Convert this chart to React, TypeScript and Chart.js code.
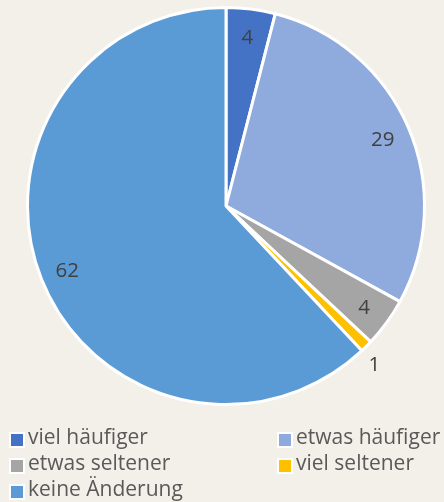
import React, { useEffect, useRef } from "react";
import { Chart, registerables } from "chart.js";

Chart.register(...registerables);

const categories = ["viel häufiger", "etwas häufiger", "etwas seltener", "viel seltener", "keine Änderung"];
const values = [4, 29, 4, 1, 62];
const colors = ["#4472C4", "#8FAADC", "#A5A5A5", "#FFC000", "#5B9BD5"];

const BG = "#F3F0EA";
const FONT = "'Open Sans', sans-serif";

const bgPlugin = {
  id: "bg",
  beforeDraw(chart: any) {
    const { ctx, width, height } = chart;
    ctx.save();
    ctx.fillStyle = BG;
    ctx.fillRect(0, 0, width, height);
    ctx.restore();
  },
};

const labelPlugin = {
  id: "sliceLabels",
  afterDatasetsDraw(chart: any) {
    const { ctx } = chart;
    const meta = chart.getDatasetMeta(0);
    const data = chart.data.datasets[0].data as number[];
    ctx.save();
    ctx.font = `20.5px ${FONT}`;
    ctx.fillStyle = "#404040";
    ctx.textAlign = "center";
    ctx.textBaseline = "middle";
    meta.data.forEach((arc: any, i: number) => {
      const { x, y, startAngle, endAngle, outerRadius } = arc.getProps(
        ["x", "y", "startAngle", "endAngle", "outerRadius"],
        true
      );
      const outside = data[i] < 2;
      const mid = (startAngle + endAngle) / 2 + (outside ? 0.03 : 0);
      const f = outside ? 1.09 : 0.86;
      const r = outerRadius * f;
      ctx.fillText(String(data[i]), x + Math.cos(mid) * r, y + Math.sin(mid) * r + 2);
    });
    ctx.restore();
  },
};

const legendPlugin = {
  id: "gridLegend",
  afterDraw(chart: any) {
    const { ctx } = chart;
    const labels = chart.data.labels as string[];
    const cols = [9, 277];
    const rows = [440, 466, 492];
    ctx.save();
    ctx.font = `21px ${FONT}`;
    ctx.textBaseline = "alphabetic";
    ctx.textAlign = "left";
    labels.forEach((lab: string, i: number) => {
      const cx = cols[i % 2];
      const cy = rows[Math.floor(i / 2)];
      ctx.fillStyle = "#FFFFFF";
      ctx.fillRect(cx, cy - 8, 16, 16);
      ctx.fillStyle = colors[i];
      ctx.fillRect(cx + 2, cy - 6, 12, 12);
      ctx.fillStyle = "#595959";
      ctx.fillText(lab, cx + 19, cy + 4);
    });
    ctx.restore();
  },
};

export default function App() {
  const ref = useRef<HTMLCanvasElement | null>(null);
  useEffect(() => {
    document.body.style.margin = "0";
    document.body.style.background = BG;
    if (!ref.current) return;
    const chart = new Chart(ref.current, {
      type: "pie",
      data: {
        labels: categories,
        datasets: [
          {
            data: values,
            backgroundColor: colors,
            borderColor: "#FFFFFF",
            borderWidth: 3,
          },
        ],
      },
      options: {
        responsive: false,
        animation: false,
        layout: { padding: { left: 26, right: 18, top: 6, bottom: 96 } },
        plugins: {
          legend: { display: false },
          tooltip: { enabled: false },
        },
      },
      plugins: [bgPlugin, labelPlugin, legendPlugin],
    });
    return () => chart.destroy();
  }, []);
  return (
    <div style={{ width: 444, height: 502 }}>
      <canvas ref={ref} width={444} height={502} />
    </div>
  );
}
